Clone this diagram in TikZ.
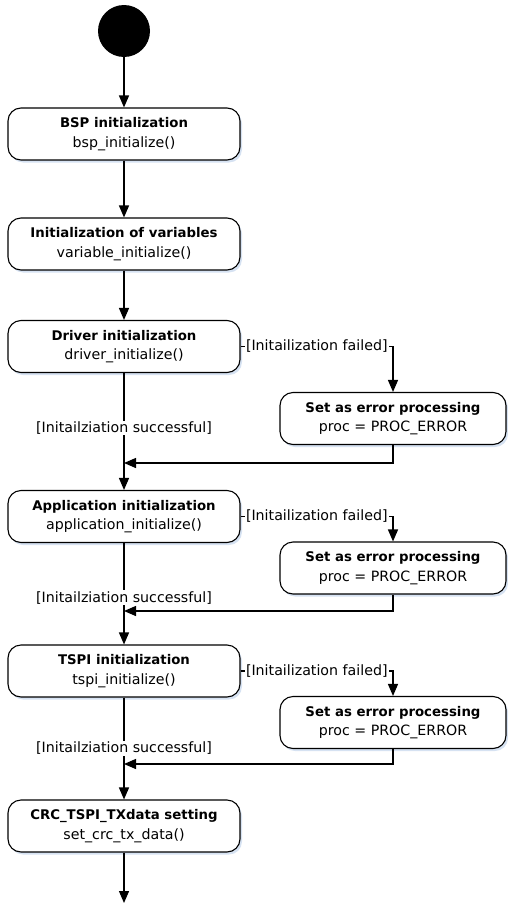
\documentclass[tikz,border=0pt]{standalone}
\usepackage{fontspec}
\setmainfont{DejaVu Sans}
\usepackage{tikz}
\usetikzlibrary{arrows.meta,shadows}

\definecolor{shadowblue}{RGB}{214,226,242}
\newcommand{\acttitle}[1]{{\fontsize{13.3}{19.5}\selectfont\bfseries #1}}

\begin{document}
\begin{tikzpicture}[x=1pt,y=1pt,
    every node/.style={font=\fontsize{14.2}{19.5}\selectfont},
    action/.style={draw, line width=1.1pt, rounded corners=13pt, fill=white,
      minimum width=232pt, minimum height=52pt, align=center, inner sep=2pt,
      drop shadow={shadow xshift=2pt, shadow yshift=-2.5pt, fill=shadowblue, opacity=1}},
    errbox/.style={action, minimum width=226pt},
    flow/.style={line width=1.3pt, -{Triangle[length=12pt,width=10pt]}},
    guard/.style={fill=white, inner sep=1pt}]
  \useasboundingbox (0,0) rectangle (507,-905);

  \node[name=start, circle, fill=black, minimum size=52pt, inner sep=0pt] at (124,-31){};
  \node[name=bsp, action] at (124,-134){\acttitle{BSP initialization}\\bsp\_initialize()};
  \node[name=var, action] at (124,-244){\acttitle{Initialization of variables}\\variable\_initialize()};
  \node[name=drv, action] at (124,-346.5){\acttitle{Driver initialization}\\driver\_initialize()};
  \node[name=err1, errbox] at (393,-418.5){\acttitle{Set as error processing}\\proc = PROC\_ERROR};
  \node[name=app, action] at (124,-516.5){\acttitle{Application initialization}\\application\_initialize()};
  \node[name=err2, errbox] at (393,-568){\acttitle{Set as error processing}\\proc = PROC\_ERROR};
  \node[name=tspi, action] at (124,-671){\acttitle{TSPI initialization}\\tspi\_initialize()};
  \node[name=err3, errbox] at (393,-722.5){\acttitle{Set as error processing}\\proc = PROC\_ERROR};
  \node[name=crc, action] at (124,-826){\acttitle{CRC\_TSPI\_TXdata setting}\\set\_crc\_tx\_data()};

  \coordinate (j1) at (124,-463);
  \coordinate (j2) at (124,-611);
  \coordinate (j3) at (124,-764);
  \coordinate (stop) at (124,-903);

  \draw[flow] (start) -- (bsp);
  \draw[flow] (bsp) -- (var);
  \draw[flow] (var) -- (drv);

  \draw[flow] (drv.east) -| node[guard, pos=0.25]{[Initailization failed]} (err1.north);
  \draw[flow] (err1.south) |- (j1);
  \draw[flow] (drv.south) -- node[guard, pos=0.47]{[Initailziation successful]} (app.north);

  \draw[flow] (app.east) -| node[guard, pos=0.25]{[Initailization failed]} (err2.north);
  \draw[flow] (err2.south) |- (j2);
  \draw[flow] (app.south) -- node[guard, pos=0.54]{[Initailziation successful]} (tspi.north);

  \draw[flow] (tspi.east) -| node[guard, pos=0.25]{[Initailization failed]} (err3.north);
  \draw[flow] (err3.south) |- (j3);
  \draw[flow] (tspi.south) -- node[guard, pos=0.50]{[Initailziation successful]} (crc.north);

  \draw[flow] (crc) -- (stop);
\end{tikzpicture}
\end{document}
